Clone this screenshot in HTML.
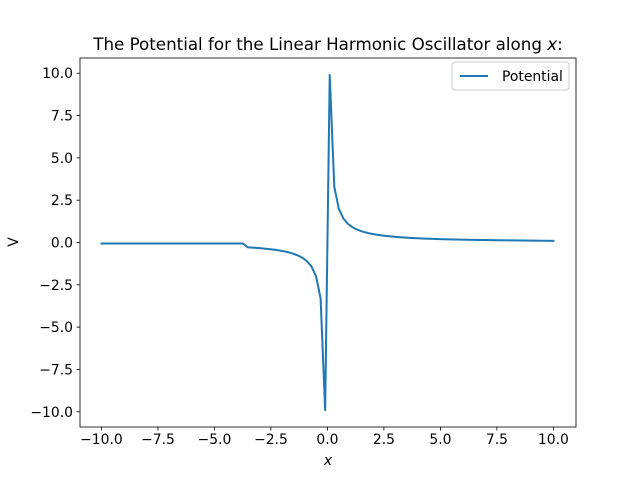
<!DOCTYPE html>
<html><head><meta charset="utf-8"><style>
body{margin:0;background:#fff;}
svg text{font-family:"DejaVu Sans","Liberation Sans",sans-serif;fill:#000;}
</style></head><body>
<svg id="chart" width="640" height="480" xmlns="http://www.w3.org/2000/svg">
<rect width="640" height="480" fill="#fff"/>
<g id="g"></g>
</svg>
<script>
const xs=[-10,-9,-8,-7,-6,-5,-4,-3.737,-3.535,-3.333,-3.131,-2.929,-2.727,-2.525,-2.323,-2.121,-1.919,-1.717,-1.515,-1.313,-1.111,-0.909,-0.707,-0.505,-0.303,-0.101,0.101,0.303,0.505,0.707,0.909,1.111,1.313,1.515,1.818,2.121,2.525,3.131,3.737,4.343,5.152,6.162,7.172,8.182,9.091,10];
const vs=[-0.06,-0.06,-0.06,-0.06,-0.06,-0.06,-0.06,-0.06,-0.283,-0.300,-0.319,-0.341,-0.367,-0.396,-0.430,-0.471,-0.521,-0.582,-0.660,-0.762,-0.900,-1.100,-1.414,-1.980,-3.300,-9.900,9.900,3.300,1.980,1.414,1.100,0.900,0.762,0.660,0.550,0.471,0.396,0.319,0.268,0.230,0.194,0.162,0.139,0.122,0.110,0.100];
const xTicks=[-10,-7.5,-5,-2.5,0,2.5,5,7.5,10];
const yTicks=[-10,-7.5,-5,-2.5,0,2.5,5,7.5,10];
const L=80,R=576,T=58,B=427,xmin=-10.95,xmax=11.0,ymin=-10.9,ymax=10.9;
const sx=v=>L+(v-xmin)/(xmax-xmin)*(R-L);
const sy=v=>B-(v-ymin)/(ymax-ymin)*(B-T);
const g=document.getElementById('g');const NS='http://www.w3.org/2000/svg';
function mk(t,a,txt){const e=document.createElementNS(NS,t);for(const k in a)e.setAttribute(k,a[k]);if(txt!==undefined)e.textContent=txt;g.appendChild(e);return e;}
let d=xs.map((x,i)=>(i?'L':'M')+sx(x).toFixed(2)+','+sy(vs[i]).toFixed(2)).join(' ');
let p=mk('path',{d:d,fill:'none',stroke:'#1f77b4','stroke-width':2,'stroke-linejoin':'round','stroke-linecap':'square'});


let fr=mk('rect',{x:L,y:T,width:R-L,height:B-T,fill:'none',stroke:'#000','stroke-width':0.8});


xTicks.forEach(v=>{const x=sx(v);mk('line',{x1:x,x2:x,y1:B,y2:B+3.5,stroke:'#000','stroke-width':0.8});
const t=mk('text',{x:x,y:B+17,'text-anchor':'middle','font-size':'13.9px'},v.toFixed(1).replace('-','−'));

});
yTicks.forEach(v=>{const y=sy(v);mk('line',{x1:L,x2:L-3.5,y1:y,y2:y,stroke:'#000','stroke-width':0.8});
const t=mk('text',{x:L-7,y:y+5,'text-anchor':'end','font-size':'13.9px'},v.toFixed(1).replace('-','−'));

});
</script>
<svg width="640" height="480" style="position:absolute;left:0;top:0" xmlns="http://www.w3.org/2000/svg">
<text x="328" y="465" text-anchor="middle" font-size="13.9px" font-style="italic">x</text>
<text x="18" y="242" text-anchor="middle" font-size="13.9px" transform="rotate(-90 18 242)">V</text>
<text x="328" y="50" text-anchor="middle" font-size="16.7px">The Potential for the Linear Harmonic Oscillator along <tspan font-style="italic">x</tspan>:</text>
<g>
<rect x="452" y="62" width="117" height="28" rx="3" fill="#fff" stroke="#ccc" stroke-width="1"/>
<line x1="460" x2="488" y1="76" y2="76" stroke="#1f77b4" stroke-width="2"/>
<text x="502" y="81" font-size="13.9px">Potential</text>
</g>
</svg>
</body></html>
